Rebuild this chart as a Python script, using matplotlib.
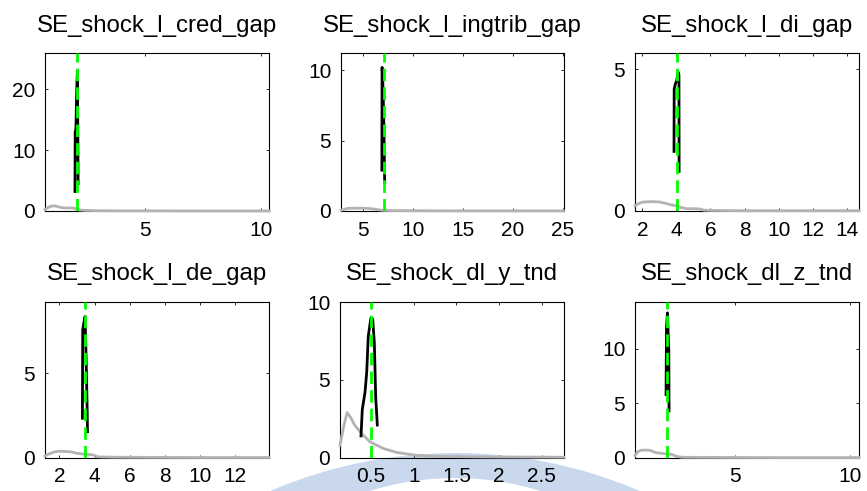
import matplotlib
matplotlib.use("Agg")
import matplotlib.pyplot as plt
from matplotlib.patches import Ellipse

plt.rcParams['font.family'] = ['Liberation Sans', 'DejaVu Sans']

W, H = 867, 491

titles = ["SE_shock_l_cred_gap", "SE_shock_l_ingtrib_gap", "SE_shock_l_di_gap",
          "SE_shock_l_de_gap", "SE_shock_dl_y_tnd", "SE_shock_dl_z_tnd"]

# prior densities (grey)
prior_x = [
    [0.68, 0.8, 0.95, 1.1, 1.25, 1.4, 1.6, 1.8, 1.95, 2.1, 2.4, 3, 4, 6, 8, 10.36],
    [2.84, 3.1, 3.4, 3.8, 4.3, 4.8, 5.3, 5.8, 6.3, 6.7, 7.2, 8, 10, 15, 20, 25.05],
    [1.57, 1.8, 2.0, 2.5, 3.0, 3.3, 3.6, 4.0, 4.3, 4.6, 5.0, 5.4, 5.6, 6, 8, 10, 12, 14.72],
    [1.18, 1.4, 1.7, 2.0, 2.3, 2.7, 3.0, 3.3, 3.6, 3.9, 4.2, 5, 7, 10, 13.94],
    [0.137, 0.18, 0.22, 0.26, 0.31, 0.39, 0.49, 0.64, 0.8, 1.03, 1.3, 1.8, 2.3, 2.76],
    [0.65, 0.75, 0.9, 1.1, 1.3, 1.45, 1.6, 1.8, 2.0, 2.25, 2.45, 2.7, 3.5, 5, 7, 10.39],
]
prior_y = [
    [0.25, 0.55, 0.8, 0.85, 0.7, 0.55, 0.5, 0.5, 0.45, 0.2, 0.1, 0.05, 0.03, 0.02, 0.01, 0.01],
    [0.05, 0.1, 0.17, 0.2, 0.2, 0.2, 0.19, 0.17, 0.12, 0.07, 0.04, 0.03, 0.02, 0.01, 0.01, 0.01],
    [0.18, 0.27, 0.31, 0.33, 0.32, 0.28, 0.23, 0.18, 0.12, 0.08, 0.08, 0.07, 0.03, 0.02, 0.01, 0.01, 0.01, 0.01],
    [0.1, 0.22, 0.34, 0.38, 0.37, 0.34, 0.26, 0.22, 0.2, 0.17, 0.05, 0.03, 0.02, 0.01, 0.01],
    [0.8, 2.0, 2.9, 2.6, 2.08, 1.55, 1.02, 0.6, 0.34, 0.15, 0.08, 0.05, 0.04, 0.03],
    [0.2, 0.5, 0.68, 0.7, 0.68, 0.55, 0.45, 0.4, 0.35, 0.3, 0.12, 0.04, 0.03, 0.02, 0.01, 0.01],
]

# posterior densities (black)
post_x = [
    [1.975, 1.985, 2.0, 2.02, 2.04, 2.06, 2.08, 2.1, 2.11],
    [6.92, 6.94, 7.0, 7.06, 7.12, 7.17, 7.2],
    [3.86, 3.87, 3.95, 4.02, 4.1, 4.15, 4.16],
    [3.31, 3.33, 3.4, 3.46, 3.52, 3.58, 3.6],
    [0.383, 0.398, 0.430, 0.450, 0.468, 0.500, 0.520, 0.539, 0.555, 0.574],
    [2.0, 2.02, 2.06, 2.1, 2.12, 2.13],
]
post_y = [
    [3.2, 13.0, 12.5, 14.0, 18.0, 21.0, 23.0, 12.0, 4.5],
    [2.9, 10.2, 9.5, 8.0, 6.0, 3.5, 2.0],
    [2.1, 4.3, 4.5, 4.6, 4.9, 4.8, 1.4],
    [2.33, 7.56, 8.0, 8.34, 6.0, 2.92, 1.54],
    [1.4, 3.1, 4.2, 5.5, 7.8, 9.0, 8.9, 7.4, 3.9, 2.1],
    [5.8, 12.0, 13.3, 11.0, 9.8, 4.3],
]

# posterior modes (green dashed)
modes = [2.08, 7.17, 4.02, 3.46, 0.5, 2.06]

xlims = [(0.68, 10.36), (2.84, 25.05), (1.57, 14.72), (1.18, 13.94), (0.137, 2.76), (0.65, 10.39)]
ylims = [(0, 25.9), (0, 11.2), (0, 5.56), (0, 9.2), (0, 10.0), (0, 14.3)]
xticks = [[5, 10], [5, 10, 15, 20, 25], [2, 4, 6, 8, 10, 12, 14], [2, 4, 6, 8, 10, 12],
          [0.5, 1, 1.5, 2, 2.5], [5, 10]]
xticklabels = [["5", "10"], ["5", "10", "15", "20", "25"],
               ["2", "4", "6", "8", "10", "12", "14"], ["2", "4", "6", "8", "10", "12"],
               ["0.5", "1", "1.5", "2", "2.5"], ["5", "10"]]
yticks = [[0, 10, 20], [0, 5, 10], [0, 5], [0, 5], [0, 5, 10], [0, 5, 10]]

# axes boxes in pixels (left, top, right, bottom)
boxes = [(45, 53.3, 269, 211), (341, 53.3, 563.5, 211), (635, 53.3, 859, 211),
         (45, 302, 269, 457.7), (340, 302, 564, 457.7), (635, 302, 859, 457.7)]

fig = plt.figure(figsize=(W / 100, H / 100), dpi=100)
fig.patch.set_facecolor("white")

# faint watermark band (outer blue disc minus inner white disc), behind everything
Ro, Ri = 469.0, 286.0
outer = Ellipse((455 / W, 1 - (453 + Ro) / H), 2 * Ro / W, 2 * Ro / H,
                transform=fig.transFigure, facecolor="#cad8ed", edgecolor="none", zorder=-10)
inner = Ellipse((455 / W, 1 - (478 + Ri) / H), 2 * Ri / W, 2 * Ri / H,
                transform=fig.transFigure, facecolor="white", edgecolor="none", zorder=-9)
fig.patches.extend([outer, inner])

for i in range(6):
    l, t, r, b = boxes[i]
    ax = fig.add_axes([l / W, 1 - b / H, (r - l) / W, (b - t) / H])
    ax.patch.set_alpha(0.0)
    ax.plot(prior_x[i], prior_y[i], color=(0.7, 0.7, 0.7), lw=2.0, zorder=3, clip_on=False)
    ax.plot(post_x[i], post_y[i], color="black", lw=2.0, zorder=3.5)
    ax.axvline(modes[i], color=(0, 1, 0), lw=2.0, ls=(0, (4.5, 2.2)), zorder=4)
    ax.set_xlim(*xlims[i])
    ax.set_ylim(*ylims[i])
    ax.set_xticks(xticks[i])
    ax.set_xticklabels(xticklabels[i])
    ax.set_yticks(yticks[i])
    ax.tick_params(direction="in", top=True, right=True, length=2.5, width=0.6,
                   labelsize=15, pad=7, colors="black")
    for s in ax.spines.values():
        s.set_linewidth(0.8)
        s.set_color("black")
    ax.set_title(titles[i], fontsize=17.3, pad=15.5)

fig.savefig("out.png", dpi=100, facecolor="white")
